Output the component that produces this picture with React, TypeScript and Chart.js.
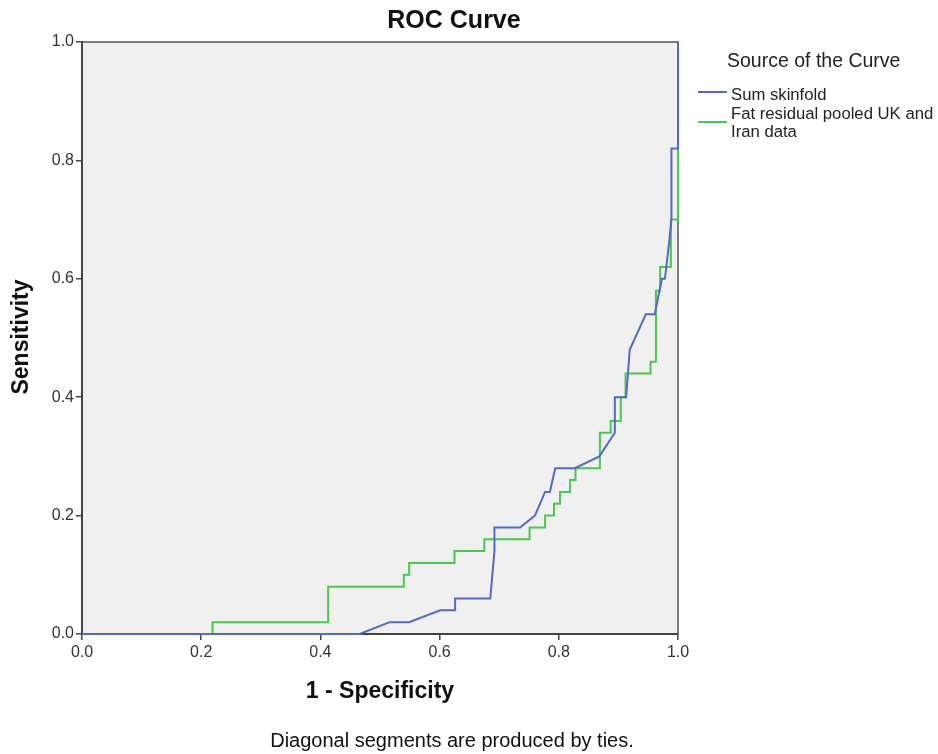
import React, { useEffect, useRef } from "react";
import { Chart, registerables } from "chart.js";

Chart.register(...registerables);

// ROC coordinates: false positive rate (1 - specificity) vs. sensitivity
const skinfoldFpr = [0, 0.466, 0.516, 0.549, 0.601, 0.626, 0.626, 0.685, 0.692, 0.692, 0.735, 0.76, 0.777, 0.785, 0.794, 0.827, 0.868, 0.894, 0.894, 0.913, 0.919, 0.946, 0.961, 0.973, 0.978, 0.985, 0.989, 0.989, 1, 1];
const skinfoldTpr = [0, 0, 0.02, 0.02, 0.04, 0.04, 0.06, 0.06, 0.14, 0.18, 0.18, 0.2, 0.24, 0.24, 0.28, 0.28, 0.3, 0.34, 0.4, 0.4, 0.48, 0.54, 0.54, 0.6, 0.6, 0.66, 0.7, 0.82, 0.82, 1];

const fatFpr = [0, 0.219, 0.219, 0.413, 0.413, 0.54, 0.54, 0.549, 0.549, 0.625, 0.625, 0.675, 0.675, 0.751, 0.751, 0.777, 0.777, 0.792, 0.792, 0.802, 0.802, 0.819, 0.819, 0.828, 0.828, 0.869, 0.869, 0.887, 0.887, 0.904, 0.904, 0.912, 0.912, 0.954, 0.954, 0.963, 0.963, 0.97, 0.97, 0.988, 0.988, 1, 1];
const fatTpr = [0, 0, 0.02, 0.02, 0.08, 0.08, 0.1, 0.1, 0.12, 0.12, 0.14, 0.14, 0.16, 0.16, 0.18, 0.18, 0.2, 0.2, 0.22, 0.22, 0.24, 0.24, 0.26, 0.26, 0.28, 0.28, 0.34, 0.34, 0.36, 0.36, 0.4, 0.4, 0.44, 0.44, 0.46, 0.46, 0.58, 0.58, 0.62, 0.62, 0.7, 0.7, 1];

const axisTicks = [0, 0.2, 0.4, 0.6, 0.8, 1.0];

const seriesNames = ["Sum skinfold", "Fat residual pooled UK and Iran data"];
const legendLines = [["Sum skinfold"], ["Fat residual pooled UK and", "Iran data"]];
const seriesColors = ["#5668c0", "#4cc650"];

const chartTitle = "ROC Curve";
const xTitle = "1 - Specificity";
const yTitle = "Sensitivity";
const legendTitle = "Source of the Curve";
const footnote = "Diagonal segments are produced by ties.";

const FONT = '"Liberation Sans", Arial, sans-serif';

const toPoints = (xs: number[], ys: number[]) => xs.map((x, i) => ({ x, y: ys[i] }));

const decorations = {
  id: "rocDecorations",
  beforeDraw(chart: any) {
    const { ctx, chartArea: a } = chart;
    ctx.save();
    ctx.fillStyle = "#f0f0f0";
    ctx.fillRect(a.left, a.top, a.right - a.left, a.bottom - a.top);
    ctx.strokeStyle = "#7d7d7d";
    ctx.lineWidth = 2;
    ctx.beginPath();
    ctx.moveTo(a.left, a.top);
    ctx.lineTo(a.right, a.top);
    ctx.lineTo(a.right, a.bottom);
    ctx.stroke();
    ctx.restore();
  },
  afterDraw(chart: any) {
    const { ctx, chartArea: a } = chart;
    ctx.save();
    ctx.fillStyle = "#111";
    ctx.textBaseline = "middle";

    ctx.textAlign = "center";
    ctx.font = `bold 25px ${FONT}`;
    ctx.fillText(chartTitle, 454, 21);

    ctx.font = `bold 23px ${FONT}`;
    ctx.fillText(xTitle, (a.left + a.right) / 2, 692);

    ctx.save();
    ctx.translate(22, 337);
    ctx.rotate(-Math.PI / 2);
    ctx.fillText(yTitle, 0, 0);
    ctx.restore();

    ctx.font = `20px ${FONT}`;
    ctx.fillText(footnote, 452, 741);

    // legend
    ctx.textAlign = "left";
    ctx.fillStyle = "#222";
    ctx.font = `19.5px ${FONT}`;
    ctx.fillText(legendTitle, 727, 62);

    ctx.font = `16.7px ${FONT}`;
    const entryTops = [95, 114];
    legendLines.forEach((lines, i) => {
      const y0 = entryTops[i];
      lines.forEach((t, k) => ctx.fillText(t, 731, y0 + k * 18));
      const sampleY = i === 0 ? 92 : 122;
      ctx.strokeStyle = seriesColors[i];
      ctx.lineWidth = 2;
      ctx.beginPath();
      ctx.moveTo(698, sampleY);
      ctx.lineTo(727, sampleY);
      ctx.stroke();
    });
    ctx.restore();
  },
};

export default function App() {
  const canvasRef = useRef<HTMLCanvasElement | null>(null);

  useEffect(() => {
    const canvas = canvasRef.current;
    if (!canvas) return;
    const tickFont = { family: FONT, size: 16 };
    const chart = new Chart(canvas, {
      type: "line",
      data: {
        datasets: [
          {
            label: seriesNames[0],
            data: toPoints(skinfoldFpr, skinfoldTpr),
            borderColor: seriesColors[0],
            borderWidth: 2,
            pointRadius: 0,
            tension: 0,
            fill: false,
            clip: 4,
          },
          {
            label: seriesNames[1],
            data: toPoints(fatFpr, fatTpr),
            borderColor: seriesColors[1],
            borderWidth: 2,
            pointRadius: 0,
            tension: 0,
            fill: false,
            clip: 4,
          },
        ],
      },
      options: {
        responsive: false,
        animation: false,
        parsing: false,
        layout: { padding: { top: 42, right: 260, left: 0, bottom: 0 } },
        plugins: {
          legend: { display: false },
          title: { display: false },
          tooltip: { enabled: false },
        },
        scales: {
          x: {
            type: "linear",
            min: 0,
            max: 1,
            afterBuildTicks: (s: any) => {
              s.ticks = axisTicks.map((v) => ({ value: v }));
            },
            afterFit: (s: any) => {
              s.height = 120;
            },
            ticks: {
              callback: (v: any) => Number(v).toFixed(1),
              font: tickFont,
              color: "#333",
              padding: 3,
              maxRotation: 0,
            },
            grid: { drawOnChartArea: false, drawTicks: true, tickLength: 6, color: "#444", lineWidth: 1.5 },
            border: { color: "#444", width: 2 },
          },
          y: {
            type: "linear",
            min: 0,
            max: 1,
            afterBuildTicks: (s: any) => {
              s.ticks = axisTicks.map((v) => ({ value: v }));
            },
            afterFit: (s: any) => {
              s.width = 82;
            },
            ticks: {
              callback: (v: any) => Number(v).toFixed(1),
              font: tickFont,
              color: "#333",
              padding: 2,
            },
            grid: { drawOnChartArea: false, drawTicks: true, tickLength: 6, color: "#444", lineWidth: 1.5 },
            border: { color: "#444", width: 2 },
          },
        },
      },
      plugins: [decorations],
    } as any);
    return () => chart.destroy();
  }, []);

  return (
    <div style={{ position: "absolute", left: 0, top: 0, width: 938, height: 754, background: "#fff" }}>
      <canvas ref={canvasRef} width={938} height={754} />
    </div>
  );
}
